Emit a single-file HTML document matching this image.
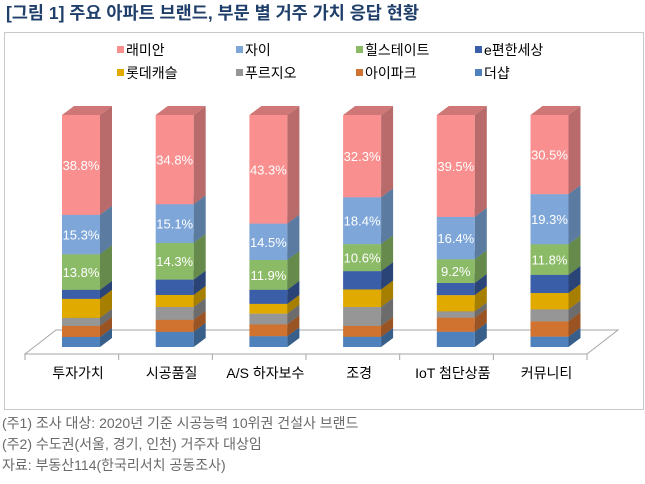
<!DOCTYPE html>
<html><head><meta charset="utf-8"><style>
body{margin:0;background:#fff;width:645px;height:484px;overflow:hidden;font-family:"Liberation Sans","Noto Sans CJK KR",sans-serif}
#title{position:absolute;left:6px;top:0px;font-size:17.5px;font-weight:bold;color:#1f3f6a;white-space:nowrap}
.note{position:absolute;left:2px;font-size:14px;color:#6a6a6a;white-space:nowrap}
</style></head><body>
<div id="title">[그림 1] 주요 아파트 브랜드, 부문 별 거주 가치 응답 현황</div>
<svg id="chart" width="645" height="484" style="position:absolute;left:0;top:0"></svg>
<div class="note" style="top:413px">(주1) 조사 대상: 2020년 기준 시공능력 10위권 건설사 브랜드</div>
<div class="note" style="top:434px">(주2) 수도권(서울, 경기, 인천) 거주자 대상임</div>
<div class="note" style="top:455px">자료: 부동산114(한국리서치 공동조사)</div>
<script>
const categories=["투자가치","시공품질","A/S 하자보수","조경","IoT 첨단상품","커뮤니티"];
const seriesNames=["더샵","아이파크","푸르지오","롯데캐슬","e편한세상","힐스테이트","자이","래미안"];
const s_theshap=[3.9,5.9,4.3,4.0,5.9,4.0];
const s_ipark=[4.3,4.7,4.7,4.3,5.5,5.9];
const s_prugio=[3.1,5.0,4.3,7.4,2.4,4.6];
const s_lotte=[7.4,4.7,3.9,6.9,6.3,6.3];
const s_eplus=[3.5,6.0,5.6,7.2,4.7,7.0];
const s_hill=[13.8,14.3,11.9,10.6,9.2,11.8];
const s_xi=[15.3,15.1,14.5,18.4,16.4,19.3];
const s_raemian=[38.8,34.8,43.3,32.3,39.5,30.5];
const labeled=[false,false,false,false,false,true,true,true];
const series=[s_theshap,s_ipark,s_prugio,s_lotte,s_eplus,s_hill,s_xi,s_raemian];
const front=["#4f81bd","#d07330","#969696","#e0aa00","#3a5ea8","#8cbb68","#7ea6d8","#f98f8f"];
const side=["#375f8a","#9a5424","#6c6c6c","#a67e00","#2a4478","#668a4c","#5b7ba0","#b96b6b"];
const top_=["#3f6a9a","#ad5f28","#7a7a7a","#bb8e00","#2f4d88","#729c56","#6690bd","#cf7676"];
const NS="http://www.w3.org/2000/svg";
const svg=document.getElementById('chart');
function mk(t,a){const e=document.createElementNS(NS,t);for(const k in a)e.setAttribute(k,a[k]);svg.appendChild(e);return e;}
const base=347,fullH=232,bw=38,dx=12,dy=9,x0=81,step=93.7;
const xc=i=>x0+i*step;
let e=mk('rect',{x:4.5,y:32.5,width:639,height:377,fill:'#fff',stroke:'#c8c8c8'});

e=mk('polygon',{points:'25,354 56,330 618,330 587,354',fill:'#fff',stroke:'#a6a6a6'});

for(let i=0;i<=categories.length;i++){const x=25+i*(562/categories.length);
e=mk('line',{x1:x,y1:354,x2:x,y2:360,stroke:'#a6a6a6'});
}
categories.forEach((c,i)=>{
  const total=series.reduce((a,s)=>a+s[i],0);
  const yv=v=>base-v/total*fullH;
  const cx=xc(i),xl=cx-bw/2,xr=cx+bw/2;let cum=0;
  series.forEach((s,k)=>{
    const v=s[i],yb=yv(cum),yt=yv(cum+v);cum+=v;
    const g=document.createElementNS(NS,'g');svg.appendChild(g);
    
    
    const p=(t,a)=>{const el=document.createElementNS(NS,t);for(const q in a)el.setAttribute(q,a[q]);g.appendChild(el);return el;};
    p('rect',{x:xl,y:yt,width:bw,height:yb-yt,fill:front[k]});
    p('polygon',{points:`${xr},${yb} ${xr+dx},${yb-dy} ${xr+dx},${yt-dy} ${xr},${yt}`,fill:side[k]});
    p('polygon',{points:`${xl},${yt} ${xl+dx},${yt-dy} ${xr+dx},${yt-dy} ${xr},${yt}`,fill:top_[k]});
    if(labeled[k]){const t=p('text',{x:cx,y:(yt+yb)/2+5,'text-anchor':'middle','font-size':'13',fill:'#fff'});t.textContent=v.toFixed(1)+'%';
      }
  });
  const t=mk('text',{x:cx-3,y:378,'text-anchor':'middle','font-size':'14',fill:'#000'});t.textContent=c;
  
});
const legendOrder=[7,6,5,4,3,2,1,0];
const lx=[117,236,356,475];
legendOrder.forEach((k,j)=>{
  const x=lx[j%4],y=j<4?51:74;
  const g=document.createElementNS(NS,'g');svg.appendChild(g);
  
  
  const r=document.createElementNS(NS,'rect');r.setAttribute('x',x);r.setAttribute('y',y-5);r.setAttribute('width',7);r.setAttribute('height',7);r.setAttribute('fill',front[k]);g.appendChild(r);
  const t=document.createElementNS(NS,'text');t.setAttribute('x',x+9);t.setAttribute('y',y+4);t.setAttribute('font-size','14');t.setAttribute('fill','#000');t.textContent=seriesNames[k];g.appendChild(t);
});
</script>
</body></html>
